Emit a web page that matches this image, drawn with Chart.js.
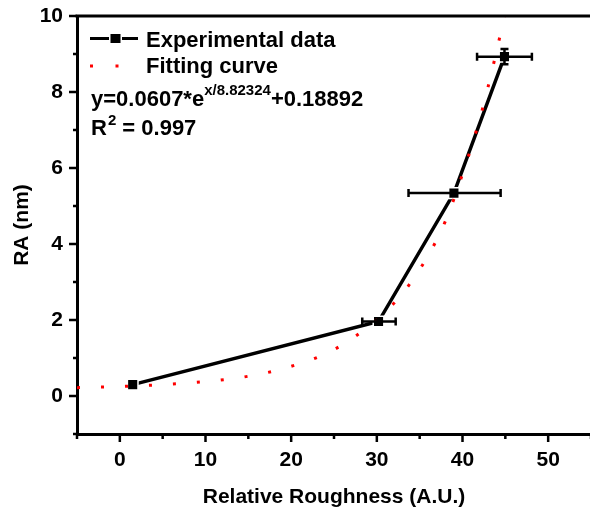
<!DOCTYPE html>
<html>
<head>
<meta charset="utf-8">
<script src="https://cdn.jsdelivr.net/npm/chart.js@4"></script>
<style>
  html, body { margin: 0; padding: 0; background: #fff; overflow: hidden; }
  #wrap { width: 600px; height: 514px; }
</style>
</head>
<body>
<div id="wrap"><canvas id="chart" width="600" height="514"></canvas></div>
<script>
// experimental points (relative roughness vs RA)
const expX = [1.5, 30.2, 39.0, 44.9];
const expY = [0.30, 1.96, 5.34, 8.93];
const expXErrLo = [0, 1.9, 5.3, 3.2];
const expXErrHi = [0, 2.0, 5.45, 3.2];
const expYErr = [0, 0.05, 0, 0.2];

// fitting curve
const fitX = [-5, 0, 5, 10, 15, 20, 25, 30, 33, 36, 38, 40, 42, 43, 44, 45, 45.5];
const fitY = [0.22, 0.25, 0.30, 0.38, 0.52, 0.78, 1.22, 2.01, 2.70, 3.70, 4.60, 5.84, 7.28, 8.15, 9.10, 10.10, 10.6];

const xTicks = [0, 10, 20, 30, 40, 50];
const yTicks = [0, 2, 4, 6, 8, 10];

const FONT = "'Liberation Sans', Arial, sans-serif";

const extras = {
  id: "extras",
  afterDatasetsDraw(chart) {
    const { ctx, scales: { x, y } } = chart;
    ctx.save();
    // error bars
    ctx.strokeStyle = "#000";
    ctx.lineWidth = 2.5;
    expX.forEach((vx, i) => {
      const py = y.getPixelForValue(expY[i]);
      const px = x.getPixelForValue(vx);
      if (expXErrLo[i] > 0) {
        const x1 = x.getPixelForValue(vx - expXErrLo[i]);
        const x2 = x.getPixelForValue(vx + expXErrHi[i]);
        ctx.beginPath();
        ctx.moveTo(x1, py); ctx.lineTo(x2, py);
        ctx.moveTo(x1, py - 4); ctx.lineTo(x1, py + 4);
        ctx.moveTo(x2, py - 4); ctx.lineTo(x2, py + 4);
        ctx.stroke();
      }
      if (expYErr[i] > 0) {
        const y1 = y.getPixelForValue(expY[i] - expYErr[i]);
        const y2 = y.getPixelForValue(expY[i] + expYErr[i]);
        ctx.beginPath();
        ctx.moveTo(px, y1); ctx.lineTo(px, y2);
        ctx.moveTo(px - 4, y1); ctx.lineTo(px + 4, y1);
        ctx.moveTo(px - 4, y2); ctx.lineTo(px + 4, y2);
        ctx.stroke();
      }
    });
    ctx.restore();
  },
  afterDraw(chart) {
    const { ctx, scales: { x, y }, chartArea } = chart;
    ctx.save();
    // frame top line
    ctx.strokeStyle = "#000";
    ctx.lineWidth = 3;
    ctx.beginPath();
    ctx.moveTo(chartArea.left - 1.5, chartArea.top);
    ctx.lineTo(chartArea.right, chartArea.top);
    ctx.stroke();
    // ticks
    ctx.lineWidth = 2.5;
    ctx.beginPath();
    for (let v = -5; v <= 55; v += 5) {
      const px = x.getPixelForValue(v);
      const len = v % 10 === 0 ? 8 : 5;
      ctx.moveTo(px, chartArea.bottom); ctx.lineTo(px, chartArea.bottom + len);
    }
    for (let v = -1; v <= 10; v += 1) {
      const py = y.getPixelForValue(v);
      const len = v % 2 === 0 ? 8 : 4;
      ctx.moveTo(chartArea.left, py); ctx.lineTo(chartArea.left - len, py);
    }
    ctx.stroke();

    // legend
    ctx.fillStyle = "#000";
    ctx.lineWidth = 3;
    ctx.beginPath();
    ctx.moveTo(90, 38.5); ctx.lineTo(109, 38.5);
    ctx.moveTo(122, 38.5); ctx.lineTo(138, 38.5);
    ctx.stroke();
    ctx.fillRect(110.5, 34, 10, 9);
    ctx.fillStyle = "#ff0000";
    ctx.fillRect(90, 64.5, 3, 3);
    ctx.fillRect(115.5, 64.5, 3, 3);

    ctx.fillStyle = "#000";
    ctx.textBaseline = "alphabetic";
    ctx.textAlign = "left";
    ctx.font = "bold 22px " + FONT;
    ctx.fillText("Experimental data", 146, 47);
    ctx.fillText("Fitting curve", 146, 73);
    const a = "y=0.0607*e";
    ctx.fillText(a, 91, 106);
    let w = ctx.measureText(a).width;
    ctx.font = "bold 15px " + FONT;
    const sup = "x/8.82324";
    ctx.fillText(sup, 91 + w, 95);
    w += ctx.measureText(sup).width;
    ctx.font = "bold 22px " + FONT;
    ctx.fillText("+0.18892", 91 + w, 106);
    ctx.fillText("R", 91, 135);
    let wr = ctx.measureText("R").width;
    ctx.font = "bold 15px " + FONT;
    ctx.fillText("2", 91 + wr + 1, 125);
    wr += 1 + ctx.measureText("2").width;
    ctx.font = "bold 22px " + FONT;
    ctx.fillText(" = 0.997", 91 + wr, 135);
    ctx.restore();
  }
};

new Chart(document.getElementById("chart"), {
  type: "scatter",
  data: {
    datasets: [
      {
        label: "Fitting curve",
        data: fitX.map((v, i) => ({ x: v, y: fitY[i] })),
        showLine: true,
        borderColor: "#ff0000",
        borderWidth: 3,
        borderDash: [3, 21],
        cubicInterpolationMode: "monotone",
        pointRadius: 0,
        order: 0
      },
      {
        label: "Experimental data",
        data: expX.map((v, i) => ({ x: v, y: expY[i] })),
        showLine: true,
        borderColor: "#000",
        borderWidth: 3.5,
        pointStyle: "rect",
        pointRadius: 7.5,
        pointBackgroundColor: "#000",
        pointBorderColor: "#fff",
        pointBorderWidth: 1.5,
        order: 1
      }
    ]
  },
  options: {
    responsive: false,
    animation: false,
    events: [],
    layout: { padding: { top: 16, right: 3, left: 0, bottom: 0 } },
    plugins: { legend: { display: false }, tooltip: { enabled: false } },
    scales: {
      x: {
        type: "linear",
        min: -5,
        max: 55,
        afterBuildTicks: s => { s.ticks = xTicks.map(v => ({ value: v })); },
        afterFit: s => { s.height = 80; s.paddingLeft = 0; s.paddingRight = 0; },
        grid: { display: false, drawTicks: false },
        border: { display: true, color: "#000", width: 3 },
        ticks: {
          padding: 14,
          color: "#000",
          font: { family: FONT, size: 21, weight: "bold" }
        },
        title: {
          display: true,
          text: "Relative Roughness (A.U.)",
          color: "#000",
          font: { family: FONT, size: 21, weight: "bold" },
          padding: { top: 12, bottom: 4 }
        }
      },
      y: {
        type: "linear",
        min: -1,
        max: 10,
        afterBuildTicks: s => { s.ticks = yTicks.map(v => ({ value: v })); },
        afterFit: s => { s.width = 77; s.paddingTop = 0; s.paddingBottom = 0; },
        grid: { display: false, drawTicks: false },
        border: { display: true, color: "#000", width: 3 },
        ticks: {
          padding: 14,
          color: "#000",
          font: { family: FONT, size: 21, weight: "bold" }
        },
        title: {
          display: true,
          text: "RA (nm)",
          color: "#000",
          font: { family: FONT, size: 21, weight: "bold" },
          padding: { top: 10, bottom: 4 }
        }
      }
    }
  },
  plugins: [extras]
});
</script>
</body>
</html>
